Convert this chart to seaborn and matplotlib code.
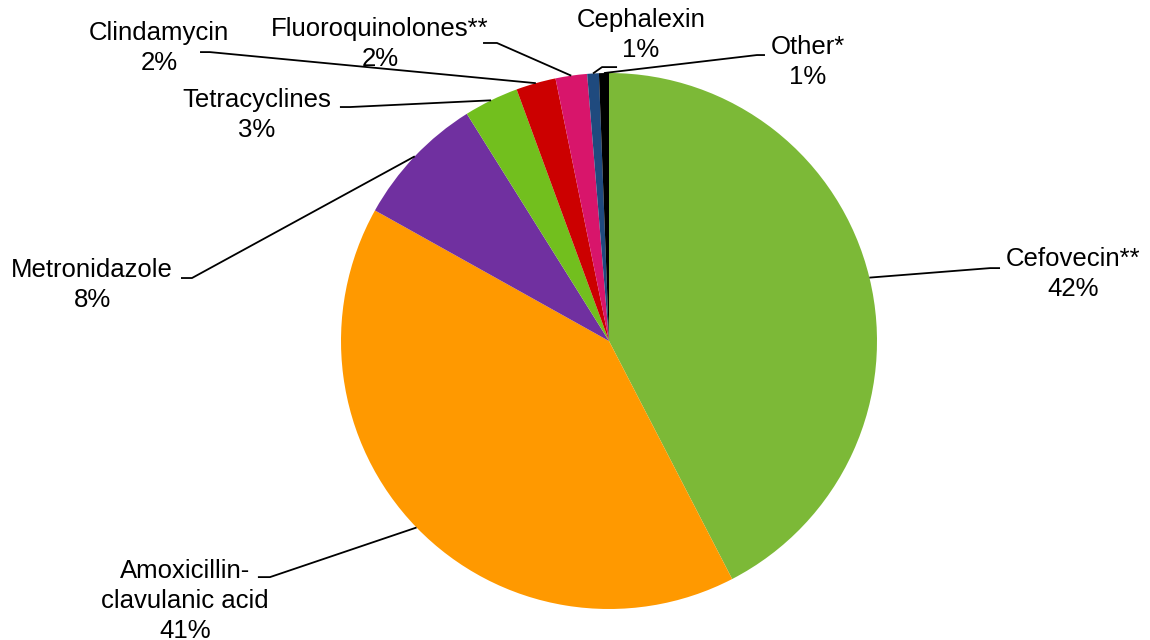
import numpy as np
import matplotlib
matplotlib.use("Agg")
import matplotlib.pyplot as plt
import seaborn as sns

# Share of antimicrobial prescriptions by drug
drugs = ["Cefovecin**", "Amoxicillin-\nclavulanic acid", "Metronidazole",
         "Tetracyclines", "Clindamycin", "Fluoroquinolones**",
         "Cephalexin", "Other*"]
shares = [42.4, 40.7, 8.0, 3.3, 2.4, 1.9, 0.7, 0.6]
colors = ["#7CB937", "#FF9900", "#7030A0", "#72BF1E", "#CC0000",
          "#D8156B", "#1F4A7E", "#000000"]

# Label placement in pie-radius units: text centre, leader elbow, leader end
text_pos = [(1.731, 0.250), (-1.582, -0.970), (-1.929, 0.209), (-1.313, 0.843),
            (-1.679, 1.093), (-0.854, 1.108), (0.119, 1.142), (0.743, 1.041)]
elbow_pos = [(1.422, 0.272), (-1.265, -0.881), (-1.556, 0.235), (-0.966, 0.873),
             (-1.489, 1.078), (-0.418, 1.112), (-0.026, 1.022), (0.552, 1.067)]
end_pos = [(1.459, 0.272), (-1.310, -0.881), (-1.597, 0.235), (-1.004, 0.873),
           (-1.526, 1.078), (-0.470, 1.112), (0.030, 1.022), (0.582, 1.067)]

sns.set_theme(style="white")
plt.rcParams["font.family"] = ["Liberation Sans", "DejaVu Sans"]

W, H = 1150, 640
fig = plt.figure(figsize=(W / 100, H / 100), dpi=100)
cx, cy, r = 609, 341, 268
ax = fig.add_axes([(cx - r) / W, (H - cy - r) / H, 2 * r / W, 2 * r / H])

wedges, _ = ax.pie(shares, colors=sns.color_palette(colors), startangle=90,
                   counterclock=False, radius=1.0,
                   wedgeprops=dict(linewidth=0))
ax.set_xlim(-1, 1)
ax.set_ylim(-1, 1)
ax.set_aspect("auto")
ax.axis("off")

for w, name, val, tp, ep, np_ in zip(wedges, drugs, shares, text_pos,
                                     elbow_pos, end_pos):
    mid = np.deg2rad((w.theta1 + w.theta2) / 2)
    start = (np.cos(mid), np.sin(mid))
    ax.plot([start[0], ep[0], np_[0]], [start[1], ep[1], np_[1]],
            color="black", lw=1.3, clip_on=False, solid_capstyle="butt")
    ax.text(tp[0], tp[1], f"{name}\n{val:.0f}%", ha="center", va="center",
            multialignment="center", fontsize=18.5, color="black",
            linespacing=1.3, clip_on=False)

fig.savefig("out.png", dpi=100, facecolor="white")
